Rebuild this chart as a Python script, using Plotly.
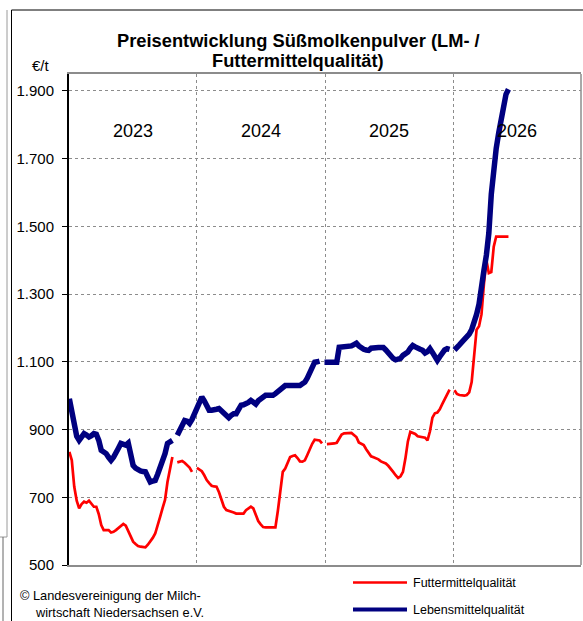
import numpy as np
import pandas as pd
import plotly.graph_objects as go

# ---- data (weekly, starting KW1 2023; None = no quotation) ----
start_week = "2023-01-02"
futter = [834, 809, 731, 690, 667, 680, 687, 684, 690, 680,
          672, 672, 650, 618, 603, 603, 603, 596, 598, 603,
          609, 615, 621, 616, 600, 585, 569, 562, 556, 554,
          552, 552, 560, 569, 580, 593, 615, 642, 668, 692,
          745, 780, 819, None, 803, 805, 807, 802, 796, 788,
          775, None, 787, 783, 777, 765, 751, 742, 734, 732,
          731, 715, 690, 672, 662, 660, 659, 655, 652, 652,
          652, 652, 662, 667, 672, 667, 645, 630, 620, 612,
          611, 611, 611, 611, 611, 660, 710, 775, 785, 800,
          819, 822, 824, 816, 806, 805, 809, 825, 844, 858,
          870, 869, 868, 859, None, 857, 857, 857, 859, 861,
          875, 885, 889, 890, 890, 890, 884, 878, 862, 857,
          854, 842, 832, 821, 818, 815, 812, 806, 803, 800,
          793, 782, 775, 765, 757, 762, 775, 815, 865, 893,
          890, 887, 880, 878, 877, 876, 868, 895, 935, 948,
          950, 960, 975, 990, 1005, 1018, None, 1016, 1005, 1002,
          1000, 1000, 1002, 1010, 1040, 1120, 1195, 1205, 1240, 1330,
          1400, 1362, 1365, 1440, 1470, 1470, 1470, 1470, 1470, 1470]

lebensmittel = [991, 948, 907, 880, 868, 882, 888, 884, 878, 882,
                888, 886, 868, 839, 834, 829, 818, 809, 818, 829,
                845, 859, 855, 854, 860, 819, 794, 786, 780, 778,
                776, 775, 760, 745, 748, 750, 768, 785, 808, 829,
                859, 866, 868, None, 883, 900, 918, 927, 925, 918,
                930, 947, 957, 978, 996, 985, 970, 957, 957, 957,
                960, 962, 955, 948, 940, 935, 942, 947, 947, 960,
                972, 973, 975, 980, 986, 980, 975, 985, 991, 996,
                1001, 1001, 1001, 1001, 1006, 1012, 1018, 1025, 1030, 1030,
                1030, 1030, 1030, 1030, 1030, 1035, 1040, 1052, 1066, 1080,
                1099, 1100, 1102, None, 1099, 1099, 1099, 1099, 1099, 1099,
                1143, 1143, 1143, 1143, 1143, 1147, 1151, 1155, 1147, 1139,
                1137, 1135, 1134, 1140, 1142, 1142, 1142, 1142, 1142, 1135,
                1126, 1118, 1110, 1106, 1106, 1110, 1119, 1124, 1129, 1140,
                1148, 1144, 1139, 1137, 1134, 1126, 1130, 1139, 1128, 1119,
                1104, 1115, 1128, 1135, 1139, 1137, None, 1135, 1140, 1150,
                1158, 1165, 1172, 1182, 1195, 1215, 1240, 1270, 1310, 1370,
                1415, 1480, 1595, 1670, 1730, 1775, 1815, 1860, 1890, 1905]

years = ["2023", "2024", "2025", "2026"]
year_bounds = ["2024-01-01", "2025-01-01", "2026-01-01"]
y_tick_vals = [500, 700, 900, 1100, 1300, 1500, 1700, 1900]
y_tick_text = ["500", "700", "900", "1.100", "1.300", "1.500", "1.700", "1.900"]
series_names = ["Futtermittelqualität", "Lebensmittelqualität"]

RED = "#FF0000"
NAVY = "#000080"
GRID = "#8c8c8c"
FONT = "Liberation Sans, Arial, sans-serif"

W, H = 583, 621
L, R, T, B = 69, 581, 74, 565


def px(xp):
    return (xp - L) / (R - L)


def py(yp):
    return (B - yp) / (B - T)


def dates_for(values):
    return pd.Timestamp(start_week) + pd.to_timedelta(np.arange(len(values)) * 7, unit="D")


fig = go.Figure()
fig.add_trace(go.Scatter(x=dates_for(futter), y=futter, mode="lines",
                         name=series_names[0],
                         line=dict(color=RED, width=2.7), connectgaps=False))
fig.add_trace(go.Scatter(x=dates_for(lebensmittel), y=lebensmittel, mode="lines",
                         name=series_names[1],
                         line=dict(color=NAVY, width=5.5), connectgaps=False))

annotations = []
# title
annotations.append(dict(text="<b>Preisentwicklung Süßmolkenpulver (LM- /</b>",
                        x=px(298), y=py(40), xref="paper", yref="paper",
                        xanchor="center", yanchor="middle", showarrow=False,
                        font=dict(size=18.3, color="black", family=FONT)))
annotations.append(dict(text="<b>Futtermittelqualität)</b>",
                        x=px(298), y=py(60), xref="paper", yref="paper",
                        xanchor="center", yanchor="middle", showarrow=False,
                        font=dict(size=18.3, color="black", family=FONT)))
annotations.append(dict(text="€/t", x=px(41), y=py(65), xref="paper", yref="paper",
                        xanchor="center", yanchor="middle", showarrow=False,
                        font=dict(size=15, color="black", family=FONT)))
for yr in years:
    annotations.append(dict(text=yr, x=f"{yr}-07-02", y=py(131), xref="x", yref="paper",
                            xanchor="center", yanchor="middle", showarrow=False,
                            font=dict(size=18, color="black", family=FONT)))
# legend texts
annotations.append(dict(text=series_names[0], x=px(411), y=py(582.5), xref="paper", yref="paper",
                        xanchor="left", yanchor="middle", showarrow=False,
                        font=dict(size=12.5, color="black", family=FONT)))
annotations.append(dict(text=series_names[1], x=px(411), y=py(609.5), xref="paper", yref="paper",
                        xanchor="left", yanchor="middle", showarrow=False,
                        font=dict(size=12.5, color="black", family=FONT)))
# copyright
annotations.append(dict(text="© Landesvereinigung der Milch-", x=px(18), y=py(595),
                        xref="paper", yref="paper", xanchor="left", yanchor="middle",
                        showarrow=False, font=dict(size=12.8, color="black", family=FONT)))
annotations.append(dict(text="wirtschaft Niedersachsen e.V.", x=px(33), y=py(612),
                        xref="paper", yref="paper", xanchor="left", yanchor="middle",
                        showarrow=False, font=dict(size=12.8, color="black", family=FONT)))

shapes = [
    # right border of plot area
    dict(type="line", xref="paper", yref="paper", x0=1, x1=1, y0=0, y1=1,
         line=dict(color=GRID, width=1.5)),
    # legend samples
    dict(type="line", xref="paper", yref="paper", x0=px(353), x1=px(407), y0=py(582.5), y1=py(582.5),
         line=dict(color=RED, width=2.5)),
    dict(type="line", xref="paper", yref="paper", x0=px(353), x1=px(407), y0=py(609.5), y1=py(609.5),
         line=dict(color=NAVY, width=4)),
    # outer frames
    dict(type="line", xref="paper", yref="paper", x0=px(11.5), x1=px(11.5), y0=py(10), y1=py(621),
         line=dict(color="black", width=1)),
    dict(type="line", xref="paper", yref="paper", x0=px(11.5), x1=px(583), y0=py(10), y1=py(10),
         line=dict(color="black", width=1)),
    dict(type="line", xref="paper", yref="paper", x0=px(7), x1=px(7), y0=py(10), y1=py(537),
         line=dict(color="#9a9a9a", width=1)),
    dict(type="line", xref="paper", yref="paper", x0=px(0), x1=px(7), y0=py(537), y1=py(537),
         line=dict(color="#9a9a9a", width=1)),
    dict(type="line", xref="paper", yref="paper", x0=px(3), x1=px(3), y0=py(537), y1=py(621),
         line=dict(color="#666666", width=1)),
]

fig.update_layout(
    width=W, height=H, autosize=False,
    margin=dict(l=L, r=W - R, t=T, b=H - B, pad=0),
    paper_bgcolor="white", plot_bgcolor="white",
    showlegend=False,
    font=dict(family=FONT, color="black"),
    annotations=annotations,
    shapes=shapes,
    xaxis=dict(type="date", range=["2023-01-01", "2027-01-01"],
               tickvals=year_bounds, showticklabels=False, ticks="",
               showgrid=True, gridcolor=GRID, griddash="dot", gridwidth=1,
               showline=True, linecolor=GRID, linewidth=2, mirror=True,
               zeroline=False),
    yaxis=dict(range=[500, 1950], tickvals=y_tick_vals, ticktext=y_tick_text,
               ticks="outside", ticklen=5, tickwidth=1, tickcolor="black",
               showline=True, linecolor="black", linewidth=2,
               showgrid=True, gridcolor=GRID, griddash="dot", gridwidth=1,
               zeroline=False, ticklabelstandoff=5,
               tickfont=dict(size=15, color="black", family=FONT)),
)

fig.write_html("out.html", config={"displayModeBar": False},
               post_script="document.body.style.margin='0';document.body.style.overflow='hidden';")
